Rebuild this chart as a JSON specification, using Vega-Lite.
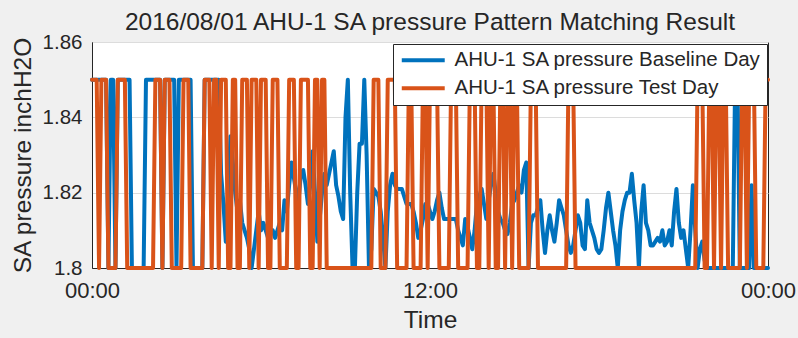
{
  "$schema": "https://vega.github.io/schema/vega-lite/v6.json",
  "width": 676,
  "height": 226,
  "autosize": {"type": "none"},
  "padding": {"left": 92, "top": 42, "right": 30, "bottom": 70},
  "background": "#f0f0f0",
  "title": {"text": "2016/08/01 AHU-1 SA pressure Pattern Matching Result", "fontSize": 24.5, "fontWeight": "normal", "font": "Liberation Sans", "color": "#262626", "anchor": "middle", "frame": "group", "baseline": "alphabetic", "offset": -22},
  "data": {"values": [
{"m":0,"b":1.85,"o":1.85},{"m":5,"b":1.85,"o":1.85},{"m":10,"b":1.85,"o":1.85},{"m":15,"b":1.85,"o":1.8},{"m":20,"b":1.85,"o":1.85},{"m":25,"b":1.85,"o":1.85},{"m":30,"b":1.85,"o":1.85},{"m":35,"b":1.8,"o":1.8},{"m":40,"b":1.85,"o":1.8},{"m":45,"b":1.85,"o":1.8},
{"m":50,"b":1.8,"o":1.8},{"m":55,"b":1.85,"o":1.85},{"m":60,"b":1.85,"o":1.85},{"m":65,"b":1.85,"o":1.85},{"m":70,"b":1.85,"o":1.85},{"m":75,"b":1.85,"o":1.8},{"m":80,"b":1.85,"o":1.8},{"m":85,"b":1.8,"o":1.8},{"m":90,"b":1.8,"o":1.8},{"m":95,"b":1.8,"o":1.8},
{"m":100,"b":1.8,"o":1.8},{"m":105,"b":1.8,"o":1.8},{"m":110,"b":1.8,"o":1.8},{"m":115,"b":1.85,"o":1.8},{"m":120,"b":1.85,"o":1.8},{"m":125,"b":1.85,"o":1.8},{"m":130,"b":1.85,"o":1.8},{"m":135,"b":1.85,"o":1.85},{"m":140,"b":1.85,"o":1.85},{"m":145,"b":1.85,"o":1.85},
{"m":150,"b":1.8,"o":1.8},{"m":155,"b":1.85,"o":1.85},{"m":160,"b":1.85,"o":1.85},{"m":165,"b":1.85,"o":1.85},{"m":170,"b":1.85,"o":1.8},{"m":175,"b":1.85,"o":1.8},{"m":180,"b":1.8,"o":1.8},{"m":185,"b":1.85,"o":1.8},{"m":190,"b":1.85,"o":1.8},{"m":195,"b":1.85,"o":1.85},
{"m":200,"b":1.85,"o":1.85},{"m":205,"b":1.85,"o":1.85},{"m":210,"b":1.85,"o":1.8},{"m":215,"b":1.8,"o":1.8},{"m":220,"b":1.8,"o":1.8},{"m":225,"b":1.8,"o":1.8},{"m":230,"b":1.8,"o":1.8},{"m":235,"b":1.8,"o":1.8},{"m":240,"b":1.85,"o":1.85},{"m":245,"b":1.85,"o":1.85},
{"m":250,"b":1.85,"o":1.85},{"m":255,"b":1.85,"o":1.8},{"m":260,"b":1.85,"o":1.85},{"m":265,"b":1.85,"o":1.85},{"m":270,"b":1.85,"o":1.8},{"m":275,"b":1.825,"o":1.85},{"m":280,"b":1.817,"o":1.85},{"m":285,"b":1.807,"o":1.85},{"m":290,"b":1.82,"o":1.8},{"m":295,"b":1.835,"o":1.8},
{"m":300,"b":1.828,"o":1.85},{"m":305,"b":1.82,"o":1.85},{"m":310,"b":1.815,"o":1.8},{"m":315,"b":1.818,"o":1.8},{"m":320,"b":1.812,"o":1.85},{"m":325,"b":1.81,"o":1.85},{"m":330,"b":1.808,"o":1.85},{"m":335,"b":1.805,"o":1.8},{"m":340,"b":1.8,"o":1.85},{"m":345,"b":1.805,"o":1.85},
{"m":350,"b":1.81,"o":1.85},{"m":355,"b":1.815,"o":1.8},{"m":360,"b":1.81,"o":1.85},{"m":365,"b":1.812,"o":1.85},{"m":370,"b":1.81,"o":1.85},{"m":375,"b":1.808,"o":1.8},{"m":380,"b":1.81,"o":1.8},{"m":385,"b":1.81,"o":1.85},{"m":390,"b":1.808,"o":1.85},{"m":395,"b":1.81,"o":1.85},
{"m":400,"b":1.812,"o":1.8},{"m":405,"b":1.81,"o":1.8},{"m":410,"b":1.818,"o":1.8},{"m":415,"b":1.815,"o":1.8},{"m":420,"b":1.822,"o":1.85},{"m":425,"b":1.828,"o":1.85},{"m":430,"b":1.824,"o":1.85},{"m":435,"b":1.82,"o":1.8},{"m":440,"b":1.818,"o":1.8},{"m":445,"b":1.825,"o":1.85},
{"m":450,"b":1.826,"o":1.85},{"m":455,"b":1.822,"o":1.85},{"m":460,"b":1.817,"o":1.85},{"m":465,"b":1.822,"o":1.8},{"m":470,"b":1.831,"o":1.8},{"m":475,"b":1.82,"o":1.85},{"m":480,"b":1.807,"o":1.85},{"m":485,"b":1.813,"o":1.8},{"m":490,"b":1.82,"o":1.85},{"m":495,"b":1.825,"o":1.85},
{"m":500,"b":1.822,"o":1.8},{"m":505,"b":1.825,"o":1.8},{"m":510,"b":1.828,"o":1.8},{"m":515,"b":1.831,"o":1.8},{"m":520,"b":1.822,"o":1.8},{"m":525,"b":1.819,"o":1.8},{"m":530,"b":1.815,"o":1.8},{"m":535,"b":1.813,"o":1.8},{"m":540,"b":1.84,"o":1.8},{"m":545,"b":1.85,"o":1.8},
{"m":550,"b":1.82,"o":1.8},{"m":555,"b":1.8,"o":1.8},{"m":560,"b":1.8,"o":1.8},{"m":565,"b":1.82,"o":1.8},{"m":570,"b":1.833,"o":1.8},{"m":575,"b":1.833,"o":1.8},{"m":580,"b":1.85,"o":1.8},{"m":585,"b":1.83,"o":1.8},{"m":590,"b":1.8,"o":1.8},{"m":595,"b":1.805,"o":1.8},
{"m":600,"b":1.821,"o":1.85},{"m":605,"b":1.82,"o":1.85},{"m":610,"b":1.819,"o":1.85},{"m":615,"b":1.815,"o":1.8},{"m":620,"b":1.808,"o":1.8},{"m":625,"b":1.8,"o":1.8},{"m":630,"b":1.815,"o":1.85},{"m":635,"b":1.822,"o":1.85},{"m":640,"b":1.825,"o":1.85},{"m":645,"b":1.822,"o":1.85},
{"m":650,"b":1.821,"o":1.8},{"m":655,"b":1.821,"o":1.8},{"m":660,"b":1.821,"o":1.8},{"m":665,"b":1.819,"o":1.8},{"m":670,"b":1.817,"o":1.8},{"m":675,"b":1.817,"o":1.85},{"m":680,"b":1.817,"o":1.85},{"m":685,"b":1.815,"o":1.8},{"m":690,"b":1.812,"o":1.8},{"m":695,"b":1.808,"o":1.8},
{"m":700,"b":1.81,"o":1.8},{"m":705,"b":1.813,"o":1.85},{"m":710,"b":1.817,"o":1.85},{"m":715,"b":1.817,"o":1.8},{"m":720,"b":1.815,"o":1.85},{"m":725,"b":1.813,"o":1.85},{"m":730,"b":1.815,"o":1.85},{"m":735,"b":1.818,"o":1.85},{"m":740,"b":1.82,"o":1.8},{"m":745,"b":1.816,"o":1.8},
{"m":750,"b":1.813,"o":1.8},{"m":755,"b":1.813,"o":1.8},{"m":760,"b":1.813,"o":1.8},{"m":765,"b":1.813,"o":1.85},{"m":770,"b":1.813,"o":1.85},{"m":775,"b":1.813,"o":1.85},{"m":780,"b":1.81,"o":1.8},{"m":785,"b":1.808,"o":1.8},{"m":790,"b":1.806,"o":1.8},{"m":795,"b":1.813,"o":1.8},
{"m":800,"b":1.811,"o":1.8},{"m":805,"b":1.808,"o":1.85},{"m":810,"b":1.805,"o":1.85},{"m":815,"b":1.81,"o":1.85},{"m":820,"b":1.817,"o":1.8},{"m":825,"b":1.819,"o":1.8},{"m":830,"b":1.821,"o":1.85},{"m":835,"b":1.817,"o":1.85},{"m":840,"b":1.813,"o":1.85},{"m":845,"b":1.818,"o":1.8},
{"m":850,"b":1.822,"o":1.85},{"m":855,"b":1.825,"o":1.85},{"m":860,"b":1.82,"o":1.8},{"m":865,"b":1.815,"o":1.8},{"m":870,"b":1.813,"o":1.85},{"m":875,"b":1.812,"o":1.85},{"m":880,"b":1.81,"o":1.8},{"m":885,"b":1.809,"o":1.85},{"m":890,"b":1.812,"o":1.85},{"m":895,"b":1.817,"o":1.8},
{"m":900,"b":1.818,"o":1.85},{"m":905,"b":1.82,"o":1.85},{"m":910,"b":1.822,"o":1.8},{"m":915,"b":1.82,"o":1.8},{"m":920,"b":1.826,"o":1.8},{"m":925,"b":1.828,"o":1.8},{"m":930,"b":1.8,"o":1.8},{"m":935,"b":1.812,"o":1.85},{"m":940,"b":1.814,"o":1.85},{"m":945,"b":1.814,"o":1.85},
{"m":950,"b":1.816,"o":1.8},{"m":955,"b":1.818,"o":1.8},{"m":960,"b":1.81,"o":1.8},{"m":965,"b":1.804,"o":1.8},{"m":970,"b":1.81,"o":1.8},{"m":975,"b":1.814,"o":1.8},{"m":980,"b":1.81,"o":1.8},{"m":985,"b":1.807,"o":1.8},{"m":990,"b":1.812,"o":1.8},{"m":995,"b":1.818,"o":1.8},
{"m":1000,"b":1.816,"o":1.8},{"m":1005,"b":1.814,"o":1.8},{"m":1010,"b":1.81,"o":1.8},{"m":1015,"b":1.806,"o":1.85},{"m":1020,"b":1.804,"o":1.85},{"m":1025,"b":1.806,"o":1.85},{"m":1030,"b":1.81,"o":1.8},{"m":1035,"b":1.814,"o":1.8},{"m":1040,"b":1.812,"o":1.8},{"m":1045,"b":1.806,"o":1.8},
{"m":1050,"b":1.805,"o":1.8},{"m":1055,"b":1.818,"o":1.8},{"m":1060,"b":1.812,"o":1.8},{"m":1065,"b":1.81,"o":1.8},{"m":1070,"b":1.808,"o":1.8},{"m":1075,"b":1.805,"o":1.8},{"m":1080,"b":1.804,"o":1.8},{"m":1085,"b":1.805,"o":1.8},{"m":1090,"b":1.81,"o":1.8},{"m":1095,"b":1.816,"o":1.8},
{"m":1100,"b":1.82,"o":1.8},{"m":1105,"b":1.815,"o":1.8},{"m":1110,"b":1.81,"o":1.8},{"m":1115,"b":1.806,"o":1.8},{"m":1120,"b":1.8,"o":1.8},{"m":1125,"b":1.81,"o":1.8},{"m":1130,"b":1.815,"o":1.8},{"m":1135,"b":1.818,"o":1.8},{"m":1140,"b":1.82,"o":1.8},{"m":1145,"b":1.82,"o":1.8},
{"m":1150,"b":1.825,"o":1.8},{"m":1155,"b":1.818,"o":1.8},{"m":1160,"b":1.812,"o":1.8},{"m":1165,"b":1.8,"o":1.8},{"m":1170,"b":1.815,"o":1.8},{"m":1175,"b":1.822,"o":1.8},{"m":1180,"b":1.812,"o":1.8},{"m":1185,"b":1.81,"o":1.8},{"m":1190,"b":1.806,"o":1.8},{"m":1195,"b":1.806,"o":1.8},
{"m":1200,"b":1.807,"o":1.8},{"m":1205,"b":1.808,"o":1.8},{"m":1210,"b":1.807,"o":1.8},{"m":1215,"b":1.81,"o":1.8},{"m":1220,"b":1.806,"o":1.8},{"m":1225,"b":1.807,"o":1.8},{"m":1230,"b":1.81,"o":1.8},{"m":1235,"b":1.806,"o":1.8},{"m":1240,"b":1.815,"o":1.8},{"m":1245,"b":1.821,"o":1.8},
{"m":1250,"b":1.812,"o":1.8},{"m":1255,"b":1.808,"o":1.8},{"m":1260,"b":1.81,"o":1.8},{"m":1265,"b":1.805,"o":1.8},{"m":1270,"b":1.8,"o":1.8},{"m":1275,"b":1.81,"o":1.8},{"m":1280,"b":1.822,"o":1.8},{"m":1285,"b":1.81,"o":1.8},{"m":1290,"b":1.8,"o":1.85},{"m":1295,"b":1.805,"o":1.85},
{"m":1300,"b":1.807,"o":1.85},{"m":1305,"b":1.802,"o":1.8},{"m":1310,"b":1.8,"o":1.8},{"m":1315,"b":1.8,"o":1.85},{"m":1320,"b":1.8,"o":1.85},{"m":1325,"b":1.8,"o":1.8},{"m":1330,"b":1.8,"o":1.85},{"m":1335,"b":1.8,"o":1.85},{"m":1340,"b":1.8,"o":1.8},{"m":1345,"b":1.8,"o":1.85},
{"m":1350,"b":1.8,"o":1.85},{"m":1355,"b":1.8,"o":1.8},{"m":1360,"b":1.8,"o":1.8},{"m":1365,"b":1.8,"o":1.8},{"m":1370,"b":1.85,"o":1.8},{"m":1375,"b":1.85,"o":1.8},{"m":1380,"b":1.8,"o":1.8},{"m":1385,"b":1.8,"o":1.85},{"m":1390,"b":1.8,"o":1.85},{"m":1395,"b":1.8,"o":1.8},
{"m":1400,"b":1.8,"o":1.85},{"m":1405,"b":1.822,"o":1.85},{"m":1410,"b":1.8,"o":1.85},{"m":1415,"b":1.8,"o":1.8},{"m":1420,"b":1.8,"o":1.8},{"m":1425,"b":1.8,"o":1.8},{"m":1430,"b":1.8,"o":1.8},{"m":1435,"b":1.8,"o":1.85},{"m":1440,"b":1.8,"o":1.85}
  ]},
  "transform": [{"fold": ["b", "o"], "as": ["k", "v"]}],
  "mark": {"type": "line", "strokeWidth": 4, "strokeJoin": "round", "strokeCap": "round"},
  "encoding": {
    "x": {"field": "m", "type": "quantitative", "scale": {"domain": [0, 1440], "nice": false, "zero": false},
      "axis": {"values": [0, 720, 1440], "labelExpr": "datum.value == 720 ? '12:00' : '00:00'", "title": "Time", "grid": false, "ticks": false, "labelPadding": 12, "titlePadding": 7, "labelFlush": false}},
    "y": {"field": "v", "type": "quantitative", "scale": {"domain": [1.8, 1.86], "nice": false, "zero": false},
      "axis": {"values": [1.8, 1.82, 1.84, 1.86], "format": "~g", "title": "SA pressure inchH2O", "ticks": false, "labelPadding": 10, "labelFontSize": 20.5, "titlePadding": 7, "grid": true}},
    "color": {"field": "k", "type": "nominal", "scale": {"domain": ["b", "o"], "range": ["#0072BD", "#D95319"]},
      "legend": {"title": null, "orient": "none", "legendX": 301, "legendY": 2, "symbolType": "M-3,0H3", "symbolSize": 205, "symbolOffset": 14, "symbolStrokeWidth": 4, "labelFontSize": 20.5, "labelFont": "Liberation Sans", "labelColor": "#262626", "labelOffset": 21, "padding": 6, "rowPadding": 7, "fillColor": "white", "strokeColor": "#262626", "labelLimit": 400,
        "labelExpr": "datum.label == 'b' ? 'AHU-1 SA pressure Baseline Day' : 'AHU-1 SA pressure Test Day'"}}
  },
  "config": {
    "view": {"fill": "white", "stroke": "#262626", "strokeWidth": 1},
    "axis": {"domainColor": "#262626", "labelColor": "#262626", "titleColor": "#262626", "labelFont": "Liberation Sans", "titleFont": "Liberation Sans", "labelFontSize": 22, "titleFontSize": 24.5, "titleFontWeight": "normal", "gridColor": "#dcdcdc"}
  }
}
